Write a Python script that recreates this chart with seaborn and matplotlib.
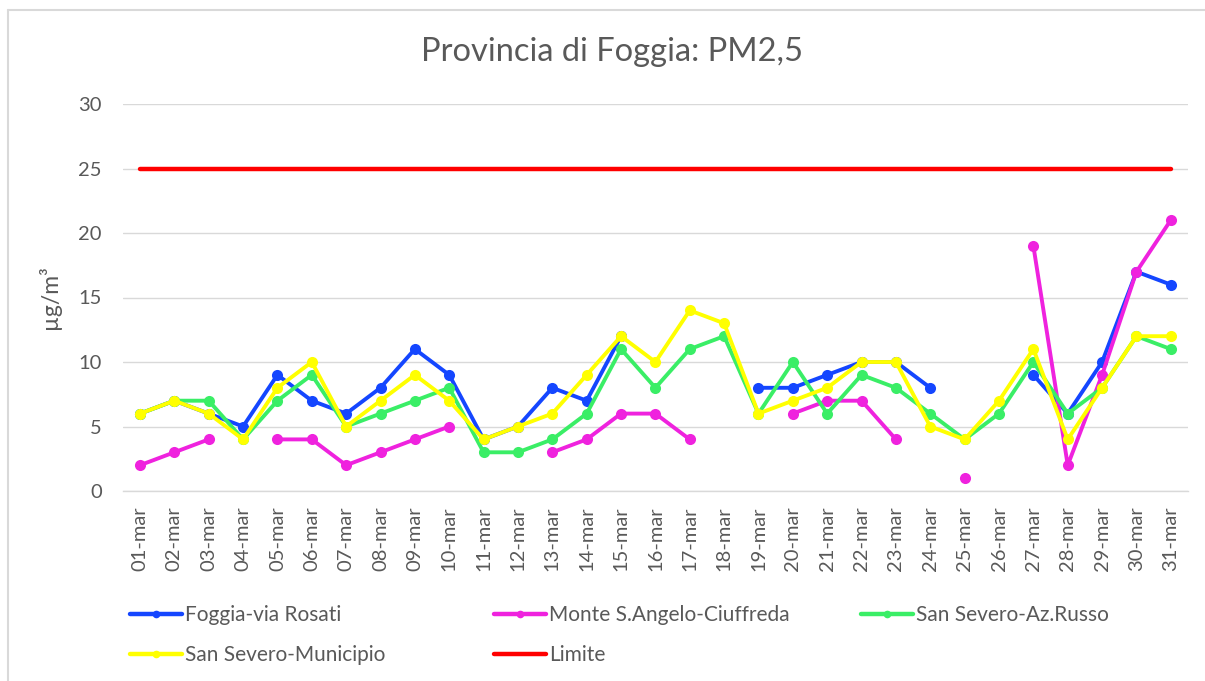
import numpy as np
import pandas as pd
import matplotlib
matplotlib.use('Agg')
import matplotlib.pyplot as plt
from matplotlib.lines import Line2D
from matplotlib.ticker import FixedLocator
import seaborn as sns

# daily PM2.5 values, march (None = no data)
days = ['%02d-mar' % d for d in range(1, 32)]
foggia_rosati = [6, 7, 6, 5, 9, 7, 6, 8, 11, 9, 4, 5, 8, 7, 12, None, None, None,
                 8, 8, 9, 10, 10, 8, None, None, 9, 6, 10, 17, 16]
monte_sangelo = [2, 3, 4, None, 4, 4, 2, 3, 4, 5, None, None, 3, 4, 6, 6, 4, None,
                 None, 6, 7, 7, 4, None, 1, None, 19, 2, 9, 17, 21]
sansevero_russo = [6, 7, 7, 4, 7, 9, 5, 6, 7, 8, 3, 3, 4, 6, 11, 8, 11, 12,
                   6, 10, 6, 9, 8, 6, 4, 6, 10, 6, 8, 12, 11]
sansevero_municipio = [6, 7, 6, 4, 8, 10, 5, 7, 9, 7, 4, 5, 6, 9, 12, 10, 14, 13,
                       6, 7, 8, 10, 10, 5, 4, 7, 11, 4, 8, 12, 12]
limite = [25] * 31

names = ['Foggia-via Rosati', 'Monte S.Angelo-Ciuffreda',
         'San Severo-Az.Russo', 'San Severo-Municipio']
series = [foggia_rosati, monte_sangelo, sansevero_russo, sansevero_municipio]
colors = {'Foggia-via Rosati': '#1446ff',
          'Monte S.Angelo-Ciuffreda': '#ef22de',
          'San Severo-Az.Russo': '#3aee66',
          'San Severo-Municipio': '#ffff00'}
red = '#ff0000'

# long table, with a segment id so gaps stay gaps
rows = []
for name, vals in zip(names, series):
    seg = 0
    prev = None
    for i, v in enumerate(vals):
        if v is None:
            prev = None
            continue
        if prev is None:
            seg += 1
        rows.append({'day': i, 'value': v, 'station': name, 'seg': name + str(seg)})
        prev = v
df = pd.DataFrame(rows)
df_lim = pd.DataFrame({'day': range(31), 'value': limite})

sns.set_style('white')
plt.rcParams['font.family'] = ['Lato', 'DejaVu Sans']
grey = '#595959'

fig = plt.figure(figsize=(12.05, 6.81), dpi=100)
ax = fig.add_axes([122.8 / 1205, 1 - 491 / 681, (1188 - 122.8) / 1205, (491 - 104) / 681])

sns.lineplot(data=df, x='day', y='value', hue='station', units='seg', estimator=None,
             palette=colors, hue_order=names, marker='o', markersize=8,
             markeredgewidth=0, linewidth=2.8, legend=False, ax=ax)
sns.lineplot(data=df_lim, x='day', y='value', color=red, linewidth=3.2, ax=ax)

ax.set_xlim(-0.5, 30.5)
ax.set_ylim(0, 30)
ax.set_yticks(range(0, 31, 5))
ax.set_xticks(range(31))
ax.set_xticklabels(days, rotation=90)
ax.xaxis.set_minor_locator(FixedLocator(np.arange(-0.5, 31, 1)))
ax.tick_params(axis='x', which='major', length=0, pad=11, labelsize=14.5, labelcolor=grey)
ax.tick_params(axis='x', which='minor', length=6, width=1, color='#d9d9d9')
ax.tick_params(axis='y', length=0, pad=15, labelsize=14.5, labelcolor=grey)
ax.grid(axis='y', color='#d9d9d9', linewidth=1)
ax.set_axisbelow(True)
for s in ['left', 'right', 'top']:
    ax.spines[s].set_visible(False)
ax.spines['bottom'].set_color('#d9d9d9')
ax.spines['bottom'].set_linewidth(1)
ax.set_xlabel('')
ax.set_ylabel('µg/m³', fontsize=16.5, color=grey)
ax.yaxis.set_label_coords(-62 / (1188 - 122.8), 0.5)

fig.text(612 / 1205, 1 - 52 / 681, 'Provincia di Foggia: PM2,5', ha='center', va='center',
         fontsize=23.5, color=grey)

# legend, three columns like the original
def handle(c, mk=True):
    return Line2D([], [], color=c, linewidth=3.2, marker='o' if mk else None,
                  markersize=5.5, markeredgewidth=0)

cols = [
    (130, [handle(colors[names[0]]), handle(colors[names[3]])], [names[0], names[3]]),
    (494, [handle(colors[names[1]]), handle(red, False)], [names[1], 'Limite']),
    (861, [handle(colors[names[2]])], [names[2]]),
]
for x0, hs, ls in cols:
    leg = fig.legend(hs, ls, loc='upper left', bbox_to_anchor=(x0 / 1205, 1 - 605 / 681),
                     frameon=False, fontsize=15, handlelength=2.5, handletextpad=0.15,
                     borderpad=0, borderaxespad=0, labelspacing=0.95, labelcolor=grey)

# chart area border
fig.add_artist(Line2D([8 / 1205, 8 / 1205], [0, 1 - 10 / 681], transform=fig.transFigure,
                      color='#d9d9d9', linewidth=1.5))
fig.add_artist(Line2D([8 / 1205, 1], [1 - 10 / 681, 1 - 10 / 681], transform=fig.transFigure,
                      color='#d9d9d9', linewidth=1.5))

fig.savefig('out.png', dpi=100, facecolor='white')
